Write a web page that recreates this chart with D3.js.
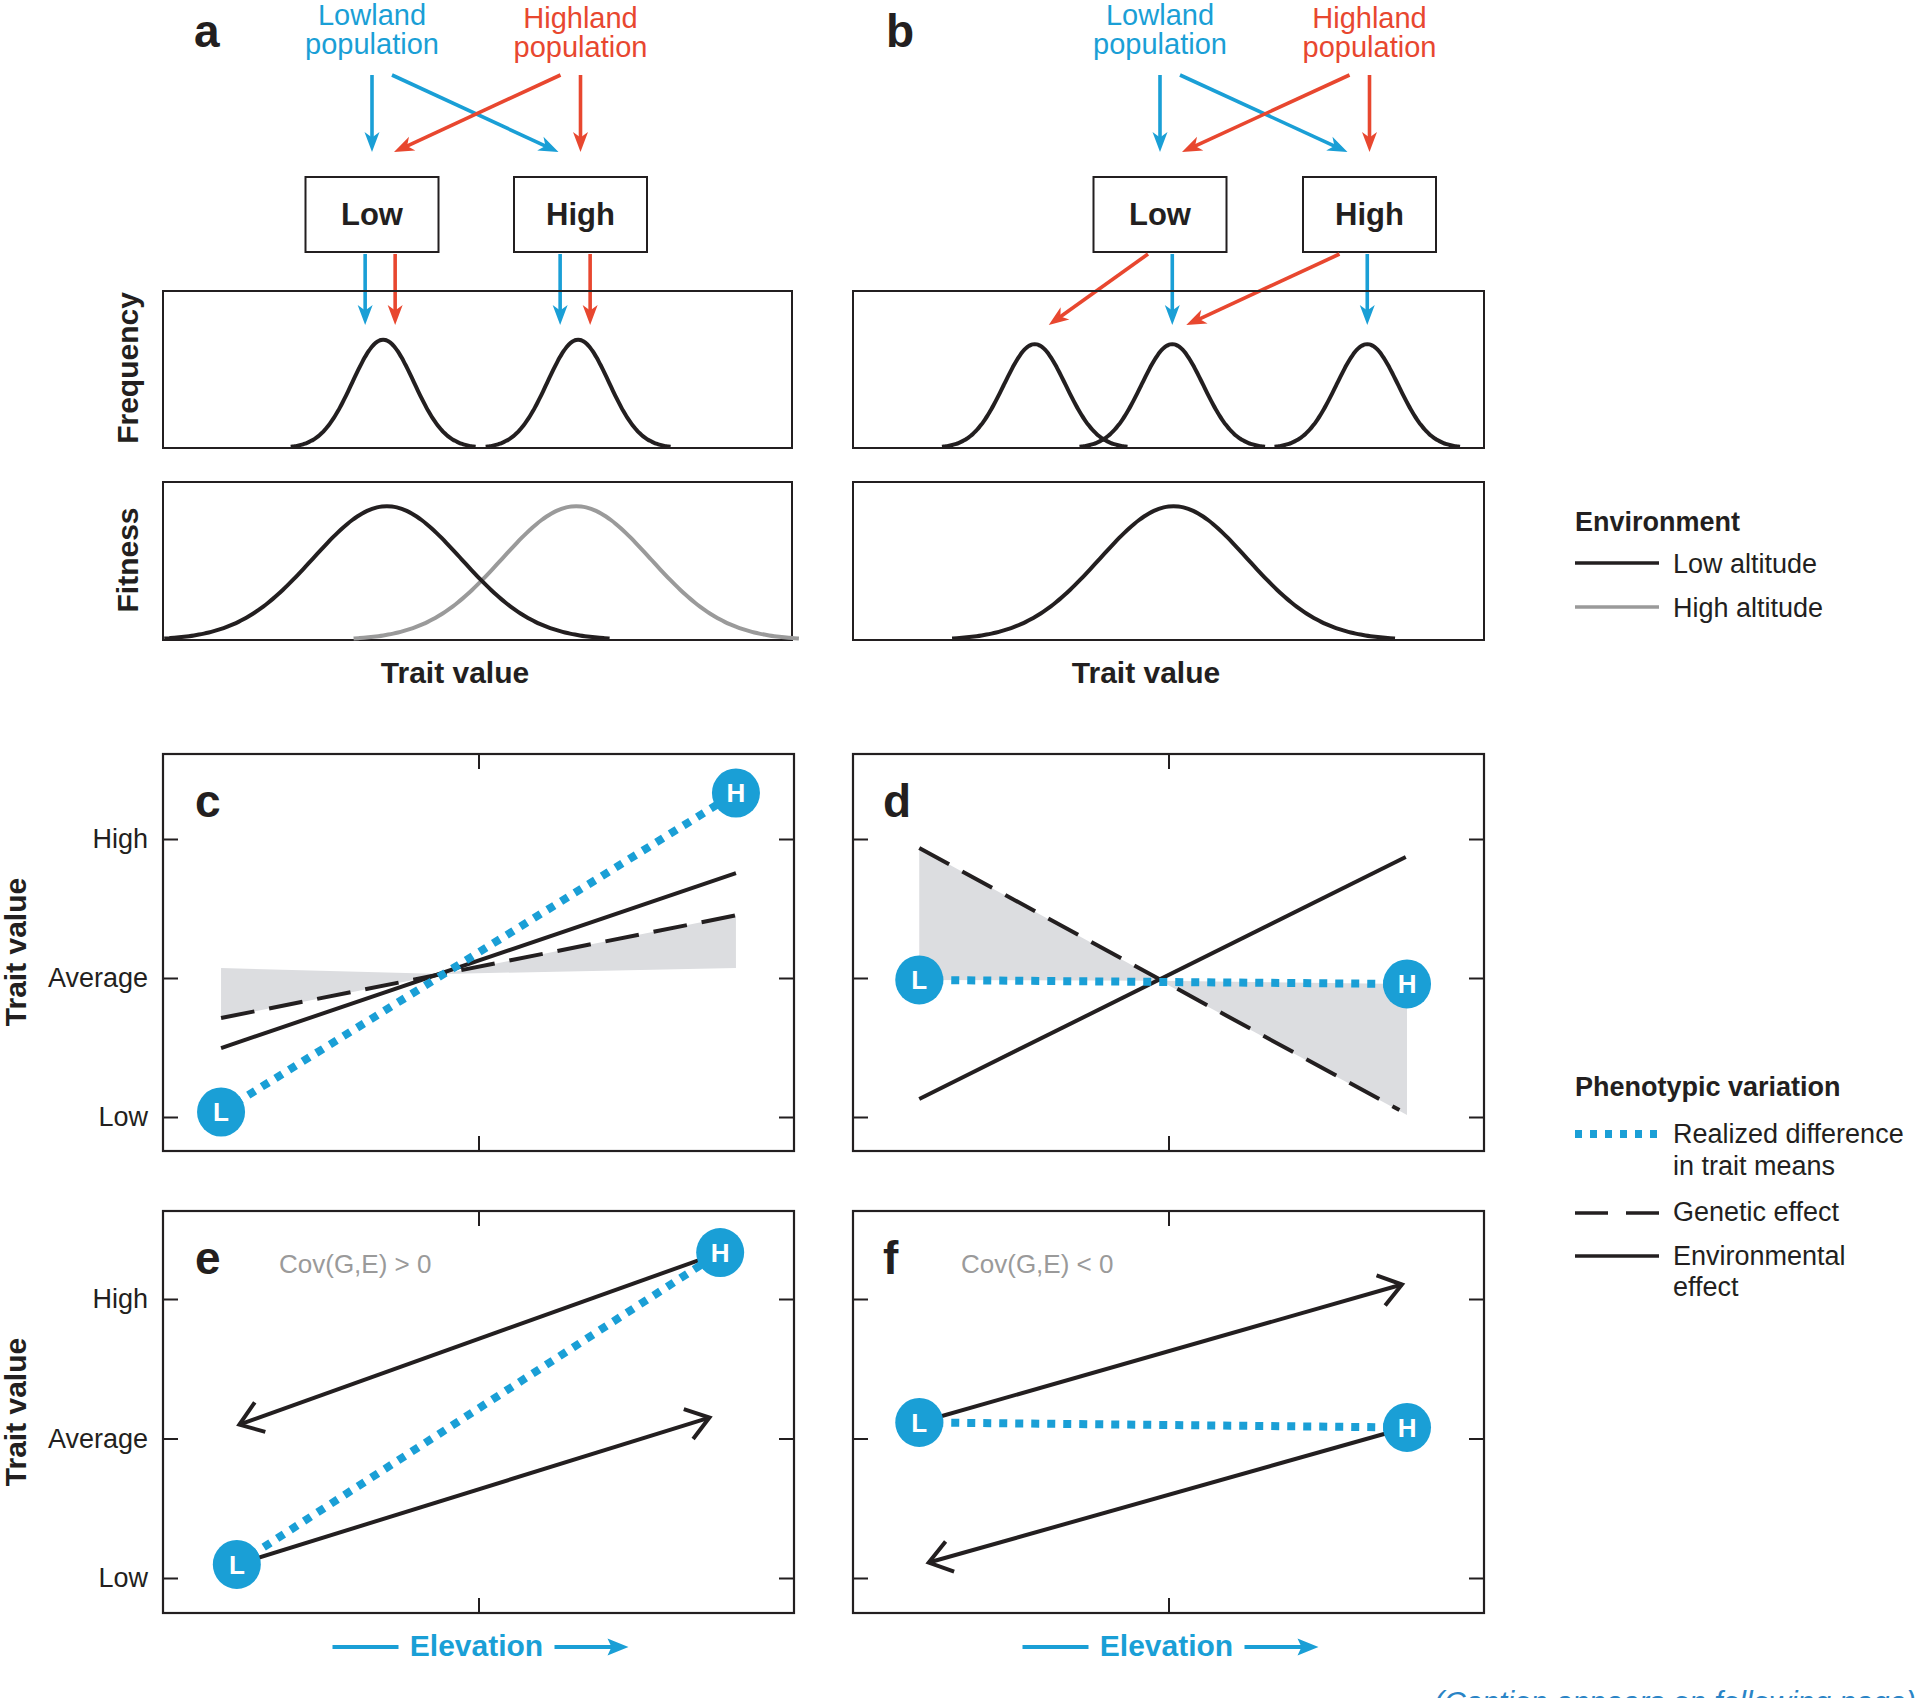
<!DOCTYPE html>
<html>
<head>
<meta charset="utf-8">
<script src="https://cdn.jsdelivr.net/npm/d3@7"></script>
<style>
  body { margin: 0; background: #fff; }
  svg { display: block; }
  text { font-family: "Liberation Sans", Arial, sans-serif; }
</style>
</head>
<body>
<div id="viz"></div>
<script>
// ---- data ----
const populations = ["Lowland", "Highland"];
const environments = ["Low", "High"];
const yTickNames = ["Low", "Average", "High"];   // trait value -1, 0, 1

// panels a, b : trait distributions, trait axis 0..10
const freqA = [
  {mean: 3.50, sd: 0.49, peak: 1},
  {mean: 6.60, sd: 0.49, peak: 1}
];
const freqB = [
  {mean: 2.88, sd: 0.49, peak: 0.96},
  {mean: 5.06, sd: 0.49, peak: 0.96},
  {mean: 8.15, sd: 0.49, peak: 0.96}
];
const fitnessA = [
  {env: "High altitude", mean: 6.57, sd: 1.18, peak: 1},
  {env: "Low altitude", mean: 3.56, sd: 1.18, peak: 1}
];
const fitnessB = [
  {env: "Low altitude", mean: 5.08, sd: 1.17, peak: 1}
];
// population raised in environment -> which distribution it ends up in
const linksA = [
  {pop: "Lowland", env: "Low", curve: 0},
  {pop: "Highland", env: "Low", curve: 0},
  {pop: "Lowland", env: "High", curve: 1},
  {pop: "Highland", env: "High", curve: 1}
];
const linksB = [
  {pop: "Highland", env: "Low", curve: 0},
  {pop: "Lowland", env: "Low", curve: 1},
  {pop: "Highland", env: "High", curve: 1},
  {pop: "Lowland", env: "High", curve: 2}
];

// panels c-f : elevation 0..1, trait value -1 (low) .. 1 (high)
const meansC = [{id: "L", x: 0.092, y: -0.964}, {id: "H", x: 0.908, y: 1.331}];
const envC = [{x: 0.092, y: -0.504}, {x: 0.908, y: 0.755}];
const genC = [{x: 0.092, y: -0.288}, {x: 0.927, y: 0.468}];
const shadeC = [
  [{x: 0.092, y: 0.072}, {x: 0.445, y: 0.029}, {x: 0.092, y: -0.288}],
  [{x: 0.445, y: 0.029}, {x: 0.908, y: 0.072}, {x: 0.908, y: 0.451}]
];

const meansD = [{id: "L", x: 0.105, y: -0.014}, {id: "H", x: 0.878, y: -0.043}];
const envD = [{x: 0.105, y: -0.87}, {x: 0.876, y: 0.87}];
const genD = [{x: 0.105, y: 0.935}, {x: 0.866, y: -0.95}];
const shadeD = [
  [{x: 0.105, y: 0.935}, {x: 0.105, y: -0.014}, {x: 0.487, y: -0.02}],
  [{x: 0.487, y: -0.02}, {x: 0.878, y: -0.043}, {x: 0.878, y: -0.986}]
];

const meansE = [{id: "L", x: 0.117, y: -0.903}, {id: "H", x: 0.883, y: 1.333}];
const arrowsE = [
  {from: "H", x: 0.121, y: 0.10},
  {from: "L", x: 0.866, y: 0.15}
];
const meansF = [{id: "L", x: 0.105, y: 0.115}, {id: "H", x: 0.878, y: 0.079}];
const arrowsF = [
  {from: "L", x: 0.870, y: 1.104},
  {from: "H", x: 0.120, y: -0.889}
];

// ---- styles ----
const INK = "#231f20", BLUE = "#1a9fd6", RED = "#e8472f", GREY = "#9a9a9a", SHADE = "#dcdde0";
const popColor = {Lowland: BLUE, Highland: RED};
const envStroke = {"Low altitude": INK, "High altitude": GREY};

const width = 1920, height = 1698;

const svg = d3.select("#viz")
  .append("svg")
  .attr("width", width)
  .attr("height", height)
  .attr("viewBox", [0, 0, width, height]);

function gauss(d, n = 90) {
  return d3.range(n + 1).map(i => {
    const x = d.mean - 3 * d.sd + 6 * d.sd * i / n;
    return [x, d.peak * Math.exp(-0.5 * ((x - d.mean) / d.sd) ** 2)];
  });
}

// filled arrow with a slightly concave back
function arrow(g, x1, y1, x2, y2, color) {
  const a = Math.atan2(y2 - y1, x2 - x1), ux = Math.cos(a), uy = Math.sin(a);
  const L = 20, Hw = 7.5;
  g.append("line")
    .attr("x1", x1).attr("y1", y1)
    .attr("x2", x2 - ux * 13).attr("y2", y2 - uy * 13)
    .attr("stroke", color).attr("stroke-width", 3.6);
  const bx = x2 - ux * L, by = y2 - uy * L;
  const pts = [[x2, y2], [bx - uy * Hw, by + ux * Hw], [x2 - ux * L * 0.72, y2 - uy * L * 0.72], [bx + uy * Hw, by - ux * Hw]];
  g.append("path").attr("d", "M" + pts.join("L") + "Z").attr("fill", color);
}

// line with an open chevron head
function openArrow(g, x1, y1, x2, y2) {
  const back = Math.atan2(y1 - y2, x1 - x2), L = 27, s = 0.62;
  g.append("line")
    .attr("x1", x1).attr("y1", y1).attr("x2", x2).attr("y2", y2)
    .attr("stroke", INK).attr("stroke-width", 4);
  const p1 = [x2 + L * Math.cos(back + s), y2 + L * Math.sin(back + s)];
  const p2 = [x2 + L * Math.cos(back - s), y2 + L * Math.sin(back - s)];
  g.append("path")
    .attr("d", `M${p1}L${x2},${y2}L${p2}`)
    .attr("fill", "none").attr("stroke", INK).attr("stroke-width", 4)
    .attr("stroke-linejoin", "miter");
}

function label(g, txt, x, y, size, opts = {}) {
  return g.append("text")
    .attr("x", x).attr("y", y)
    .attr("fill", opts.fill || INK)
    .attr("font-size", size)
    .attr("font-weight", opts.bold ? "bold" : null)
    .attr("text-anchor", opts.anchor || "start")
    .text(txt);
}

function vlabel(g, txt, x, y) {
  g.append("text")
    .attr("transform", `translate(${x},${y}) rotate(-90)`)
    .attr("text-anchor", "middle")
    .attr("font-size", 30).attr("font-weight", "bold").attr("fill", INK)
    .text(txt);
}

// ---- panels a and b ----
function topPanel(o) {
  const g = svg.append("g");
  const envX = d3.scalePoint().domain(environments).range(o.envRange);
  const tx = d3.scaleLinear().domain([0, 10]).range(o.traitRange);
  const fy = d3.scaleLinear().domain([0, 1.45]).range([448, 291]);
  const wy = d3.scaleLinear().domain([0, 1.18]).range([640, 482]);

  label(g, o.letter, o.letterX, 47, 46, {bold: true});

  populations.forEach((p, i) => {
    const x = envX(environments[i]);
    const t = g.append("text").attr("text-anchor", "middle").attr("fill", popColor[p]).attr("font-size", 29);
    t.append("tspan").attr("x", x).attr("y", 25 + i * 3).text(p);
    t.append("tspan").attr("x", x).attr("y", 54 + i * 3).text("population");

    // population -> environment arrows
    environments.forEach((e, j) => {
      const hx = envX(environments[i]), ex = envX(e);
      if (i === j) arrow(g, hx, 75, hx, 152, popColor[p]);
      else {
        const dir = Math.sign(ex - hx);
        arrow(g, hx + dir * 20, 75, ex - dir * 22, 152, popColor[p]);
      }
    });
  });

  environments.forEach(e => {
    g.append("rect")
      .attr("x", envX(e) - 66.5).attr("y", 177).attr("width", 133).attr("height", 75)
      .attr("fill", "#fff").attr("stroke", INK).attr("stroke-width", 2);
    label(g, e, envX(e), 225, 31, {bold: true, anchor: "middle"});
  });

  // environment -> distribution arrows
  o.links.forEach(l => {
    const tip = tx(o.freq[l.curve].mean) + o.tipDx[l.pop];
    const start = o.startX ? o.startX(l, envX, tip) : tip;
    arrow(g, start, 254, tip, 325, popColor[l.pop]);
  });

  const [x0, x1] = o.traitRange;
  g.append("rect").attr("x", x0).attr("y", 291).attr("width", x1 - x0).attr("height", 157)
    .attr("fill", "none").attr("stroke", INK).attr("stroke-width", 2);
  g.append("rect").attr("x", x0).attr("y", 482).attr("width", x1 - x0).attr("height", 158)
    .attr("fill", "none").attr("stroke", INK).attr("stroke-width", 2);

  const fLine = d3.line().x(d => tx(d[0])).y(d => fy(d[1])).curve(d3.curveBasis);
  const wLine = d3.line().x(d => tx(d[0])).y(d => wy(d[1])).curve(d3.curveBasis);

  g.selectAll(".freq").data(o.freq).join("path")
    .attr("class", "freq")
    .attr("d", d => fLine(gauss(d)))
    .attr("fill", "none").attr("stroke", INK).attr("stroke-width", 4);

  g.selectAll(".fit").data(o.fitness).join("path")
    .attr("class", "fit")
    .attr("d", d => wLine(gauss(d)))
    .attr("fill", "none").attr("stroke", d => envStroke[d.env]).attr("stroke-width", 4);

  label(g, "Trait value", o.traitLabelX, 683, 30, {bold: true, anchor: "middle"});
}

topPanel({
  letter: "a", letterX: 194,
  envRange: [372, 580.5], traitRange: [163, 792],
  freq: freqA, fitness: fitnessA, links: linksA,
  tipDx: {Lowland: -18, Highland: 12},
  traitLabelX: 455
});

topPanel({
  letter: "b", letterX: 886,
  envRange: [1160, 1369.5], traitRange: [853, 1484],
  freq: freqB, fitness: fitnessB, links: linksB,
  tipDx: {Lowland: 0, Highland: 14},
  startX: (l, envX, tip) => l.pop === "Lowland" ? tip : envX(l.env) + (l.env === "Low" ? -12 : -30),
  traitLabelX: 1146
});

vlabel(svg, "Frequency", 138, 368);
vlabel(svg, "Fitness", 138, 560);

// ---- panels c-f ----
function lowerPanel(o) {
  const g = svg.append("g");
  const x = d3.scaleLinear().domain([0, 1]).range([o.x0, o.x1]);
  const y = d3.scaleLinear().domain([-1, 1]).range(o.yRange);
  const line = d3.line().x(d => x(d.x)).y(d => y(d.y));

  const ax = [
    {axis: d3.axisLeft(y).tickValues([-1, 0, 1]).tickSize(-15).tickPadding(15)
        .tickFormat(o.yLabels ? (d => yTickNames[d + 1]) : ""), t: `translate(${o.x0},0)`},
    {axis: d3.axisRight(y).tickValues([-1, 0, 1]).tickSize(-15).tickFormat(""), t: `translate(${o.x1},0)`},
    {axis: d3.axisTop(x).tickValues([0.5]).tickSize(-15).tickFormat(""), t: `translate(0,${o.y0})`},
    {axis: d3.axisBottom(x).tickValues([0.5]).tickSize(-15).tickFormat(""), t: `translate(0,${o.y1})`}
  ];
  ax.forEach(a => {
    g.append("g").attr("transform", a.t).call(a.axis)
      .call(s => s.select(".domain").remove())
      .call(s => s.selectAll(".tick line").attr("stroke", INK).attr("stroke-width", 2))
      .call(s => s.selectAll(".tick text").attr("fill", INK).attr("font-size", 27)
        .attr("font-family", '"Liberation Sans", Arial, sans-serif'));
  });

  g.append("rect")
    .attr("x", o.x0).attr("y", o.y0).attr("width", o.x1 - o.x0).attr("height", o.y1 - o.y0)
    .attr("fill", "none").attr("stroke", INK).attr("stroke-width", 2.2);

  label(g, o.letter, o.letterX, o.y0 + 63, 46, {bold: true});
  if (o.cov) label(g, o.cov, o.covX, o.y0 + 62, 26, {fill: GREY});

  if (o.shade) {
    g.selectAll(".shade").data(o.shade).join("path")
      .attr("class", "shade").attr("d", d => line(d) + "Z").attr("fill", SHADE);
  }
  if (o.gen) {
    g.append("path").attr("d", line(o.gen)).attr("fill", "none")
      .attr("stroke", INK).attr("stroke-width", 4).attr("stroke-dasharray", "34 15");
  }
  if (o.env) {
    g.append("path").attr("d", line(o.env)).attr("fill", "none")
      .attr("stroke", INK).attr("stroke-width", 4);
  }
  const byId = Object.fromEntries(o.means.map(d => [d.id, d]));
  if (o.arrows) {
    o.arrows.forEach(a => {
      const s = byId[a.from];
      openArrow(g, x(s.x), y(s.y), x(a.x), y(a.y));
    });
  }
  g.append("path").attr("d", line(o.means)).attr("fill", "none")
    .attr("stroke", BLUE).attr("stroke-width", 8).attr("stroke-dasharray", "8 8");

  const m = g.selectAll(".mean").data(o.means).join("g")
    .attr("class", "mean")
    .attr("transform", d => `translate(${x(d.x)},${y(d.y)})`);
  m.append("ellipse").attr("rx", 24).attr("ry", 24.5).attr("fill", BLUE);
  m.append("text").attr("text-anchor", "middle").attr("y", 9.5)
    .attr("fill", "#fff").attr("font-size", 26).attr("font-weight", "bold")
    .text(d => d.id);
}

lowerPanel({letter: "c", letterX: 195, x0: 163, x1: 794, y0: 754, y1: 1151, yRange: [1117, 839],
  yLabels: true, means: meansC, env: envC, gen: genC, shade: shadeC});
lowerPanel({letter: "d", letterX: 883, x0: 853, x1: 1484, y0: 754, y1: 1151, yRange: [1117, 839],
  yLabels: false, means: meansD, env: envD, gen: genD, shade: shadeD});
lowerPanel({letter: "e", letterX: 195, x0: 163, x1: 794, y0: 1211, y1: 1613, yRange: [1578, 1299],
  yLabels: true, means: meansE, arrows: arrowsE, cov: "Cov(G,E) > 0", covX: 279});
lowerPanel({letter: "f", letterX: 883, x0: 853, x1: 1484, y0: 1211, y1: 1613, yRange: [1578, 1299],
  yLabels: false, means: meansF, arrows: arrowsF, cov: "Cov(G,E) < 0", covX: 961});

vlabel(svg, "Trait value", 26, 952);
vlabel(svg, "Trait value", 26, 1412);

// elevation labels with arrows
[478.5, 1168.5].forEach(cx => {
  const g = svg.append("g");
  g.append("line").attr("x1", cx - 146).attr("x2", cx - 80).attr("y1", 1647).attr("y2", 1647)
    .attr("stroke", BLUE).attr("stroke-width", 4);
  g.append("line").attr("x1", cx + 76).attr("x2", cx + 135).attr("y1", 1647).attr("y2", 1647)
    .attr("stroke", BLUE).attr("stroke-width", 4);
  g.append("path").attr("d", `M${cx + 150},1647L${cx + 129},1638.5L${cx + 133},1647L${cx + 129},1655.5Z`).attr("fill", BLUE);
  label(g, "Elevation", cx - 2, 1656, 30, {bold: true, anchor: "middle", fill: BLUE});
});

// ---- legends ----
const leg1 = svg.append("g");
label(leg1, "Environment", 1575, 531, 27, {bold: true});
[["Low altitude", 563], ["High altitude", 607]].forEach(([name, yy]) => {
  leg1.append("line").attr("x1", 1575).attr("x2", 1659).attr("y1", yy).attr("y2", yy)
    .attr("stroke", envStroke[name]).attr("stroke-width", 3.6);
  label(leg1, name, 1673, yy + 10, 27);
});

const leg2 = svg.append("g");
label(leg2, "Phenotypic variation", 1575, 1096, 27, {bold: true});
leg2.append("line").attr("x1", 1575).attr("x2", 1659).attr("y1", 1134).attr("y2", 1134)
  .attr("stroke", BLUE).attr("stroke-width", 8).attr("stroke-dasharray", "7 8");
label(leg2, "Realized difference", 1673, 1143, 27);
label(leg2, "in trait means", 1673, 1175, 27);
leg2.append("line").attr("x1", 1575).attr("x2", 1659).attr("y1", 1213).attr("y2", 1213)
  .attr("stroke", INK).attr("stroke-width", 3.6).attr("stroke-dasharray", "33 18");
label(leg2, "Genetic effect", 1673, 1221, 27);
leg2.append("line").attr("x1", 1575).attr("x2", 1659).attr("y1", 1256).attr("y2", 1256)
  .attr("stroke", INK).attr("stroke-width", 3.6);
label(leg2, "Environmental", 1673, 1265, 27);
label(leg2, "effect", 1673, 1296, 27);

// cut-off caption note at the page bottom
svg.append("text")
  .attr("x", 1916).attr("y", 1712)
  .attr("text-anchor", "end")
  .attr("font-family", '"Liberation Serif", "DejaVu Serif", serif')
  .attr("font-style", "italic")
  .attr("font-size", 30)
  .attr("fill", "#2a84c6")
  .text("(Caption appears on following page)");
</script>
</body>
</html>
